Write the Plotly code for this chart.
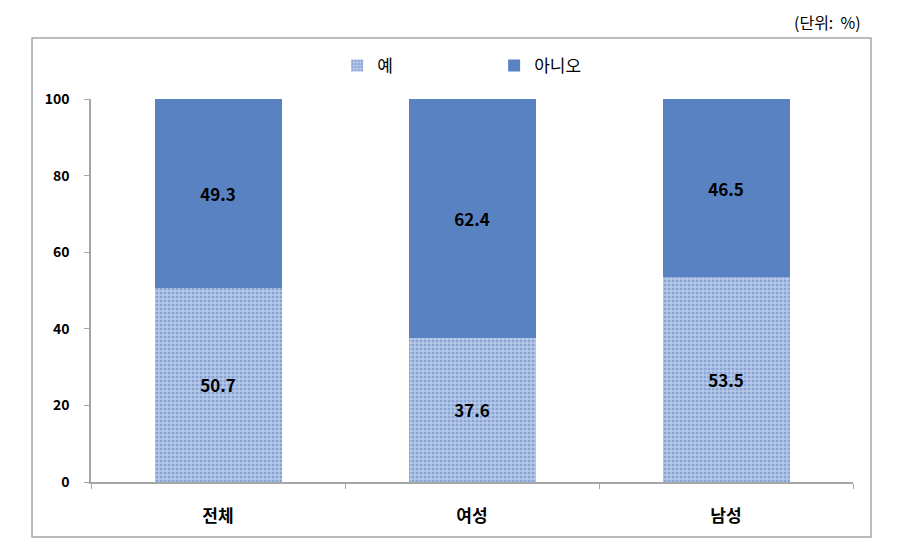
import plotly.graph_objects as go

categories = ["전체", "여성", "남성"]
yes_values = [50.7, 37.6, 53.5]
no_values = [49.3, 62.4, 46.5]
series_names = ["예", "아니오"]
y_ticks = [0, 20, 40, 60, 80, 100]

FONT = "Noto Sans CJK KR"

fig = go.Figure()
fig.add_trace(go.Bar(
    x=categories, y=yes_values, name=series_names[0],
    marker=dict(color="#B7C9E8",
                pattern=dict(shape=".", fgcolor="#5A80C2", bgcolor="#B7C9E8", size=4, solidity=0.45),
                line=dict(width=0)),
    text=[f"{v:.1f}" for v in yes_values], texttemplate="%{text}",
    textposition="inside", insidetextanchor="middle", textangle=0,
    textfont=dict(family=FONT, size=17, color="black", weight="bold"),
    width=0.5,
))
fig.add_trace(go.Bar(
    x=categories, y=no_values, name=series_names[1],
    marker=dict(color="#5882C1", line=dict(width=0)),
    text=[f"{v:.1f}" for v in no_values], texttemplate="%{text}",
    textposition="inside", insidetextanchor="middle", textangle=0,
    textfont=dict(family=FONT, size=17, color="black", weight="bold"),
    width=0.5,
))

fig.update_layout(
    barmode="stack",
    width=908, height=547,
    margin=dict(l=91, r=55, t=99, b=65),
    paper_bgcolor="white", plot_bgcolor="white",
    font=dict(family=FONT, color="black"),
    showlegend=True,
    legend=dict(orientation="h", x=0.323, xanchor="left", y=1.086, yanchor="middle",
                entrywidth=112, entrywidthmode="pixels", bgcolor="rgba(0,0,0,0)",
                font=dict(family=FONT, size=17), traceorder="normal"),
    xaxis=dict(showline=True, linecolor="#A6A6A6", linewidth=1.5,
               ticks="outside", tickson="boundaries", ticklen=5, tickcolor="#A6A6A6",
               tickfont=dict(family=FONT, size=17, color="black", weight="bold"),
               ticklabelstandoff=18, showgrid=False),
    yaxis=dict(range=[0, 100], tickvals=y_ticks, showline=True, linecolor="#A6A6A6", linewidth=1.5,
               ticks="outside", ticklen=5, tickcolor="#A6A6A6",
               tickfont=dict(family=FONT, size=14, color="black", weight="bold"),
               ticklabelstandoff=12, showgrid=False, zeroline=False),
    shapes=[dict(type="rect", xref="paper", yref="paper",
                 x0=-0.0774, x1=1.0236, y0=-0.1436, y1=1.159,
                 line=dict(color="#A6A6A6", width=1.5), fillcolor="rgba(0,0,0,0)", layer="below")],
    annotations=[dict(text="(단위:  %)", xref="paper", yref="paper", x=1.0131, y=1.2,
                      xanchor="right", yanchor="middle", showarrow=False,
                      font=dict(family=FONT, size=16, color="black"))],
)

fig.write_html("out.html")
